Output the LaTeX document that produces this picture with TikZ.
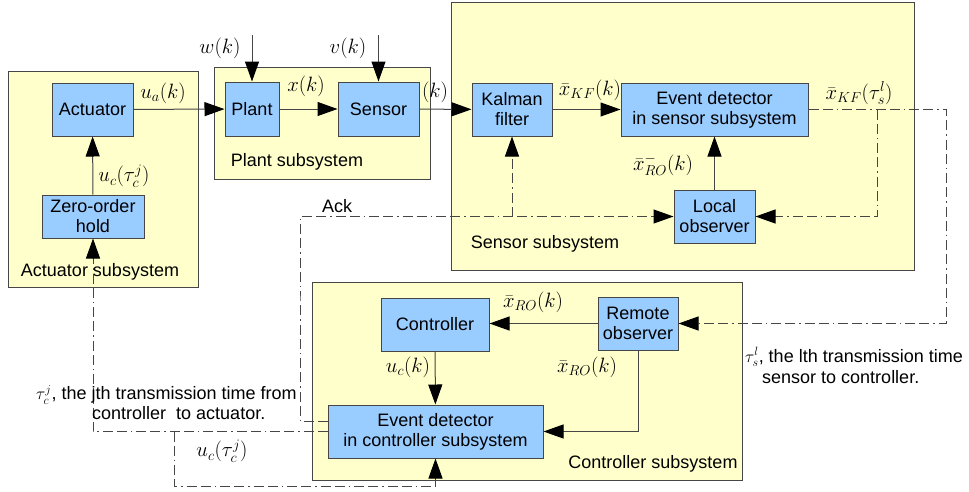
\documentclass[tikz,border=0pt]{standalone}
\usepackage{fontspec}
\setmainfont{Liberation Sans}
\usetikzlibrary{arrows.meta}

\definecolor{subfill}{RGB}{255,255,204}
\definecolor{blockfill}{RGB}{153,204,255}
\definecolor{wire}{RGB}{70,70,70}

\begin{document}
\begin{tikzpicture}[x=1pt,y=-1pt,
    font=\fontsize{18}{20}\selectfont,
    sub/.style={draw=wire,fill=subfill,line width=0.9pt,inner sep=0pt},
    block/.style={draw=wire,fill=blockfill,line width=1pt,align=center,inner sep=0pt},
    lbl/.style={inner sep=0pt},
    sym/.style={inner sep=0pt,font=\fontsize{21}{23}\selectfont},
    sig/.style={draw=wire,line width=1pt,-{Triangle[length=20pt,width=14pt,color=black]}},
    net/.style={sig,dash pattern=on 10pt off 4pt on 10pt off 4pt on 1.5pt off 4pt}]
  \useasboundingbox (0,0) rectangle (969,491);
  \clip (0,0) rectangle (969,491);

  \node[sub,minimum width=190pt,minimum height=216pt] (actsub) at (103,179) {};
  \node[sub,minimum width=216pt,minimum height=112pt] (plantsub) at (322,123) {};
  \node[sub,minimum width=463pt,minimum height=268pt] (sensub) at (682.5,136) {};
  \node[sub,minimum width=430pt,minimum height=198pt] (ctrlsub) at (527,381) {};

  \node[lbl] (actname) at (100,272) {Actuator subsystem};
  \node[lbl] (plantname) at (297,162) {Plant subsystem};
  \node[lbl] (senname) at (545,244) {Sensor subsystem};
  \node[lbl] (ctrlname) at (653,464) {Controller subsystem};

  \node[block,minimum width=81pt,minimum height=53pt] (act) at (92.5,109.5) {Actuator};
  \node[block,minimum width=102pt,minimum height=43pt] (zoh) at (93,216.5) {Zero-order\\hold};
  \node[block,minimum width=54pt,minimum height=54pt] (plant) at (252,109) {Plant};
  \node[block,minimum width=81pt,minimum height=54pt] (sensor) at (378.5,109) {Sensor};
  \node[block,minimum width=80pt,minimum height=53pt] (kf) at (512,109.5) {Kalman\\filter};
  \node[block,minimum width=187pt,minimum height=53pt] (eds) at (714.5,109.5) {Event detector\\in sensor subsystem};
  \node[block,minimum width=81pt,minimum height=53pt] (lo) at (714.5,216.5) {Local\\observer};
  \node[block,minimum width=108pt,minimum height=53pt] (ctrl) at (435,324.5) {Controller};
  \node[block,minimum width=80pt,minimum height=53pt] (ro) at (638,323.5) {Remote\\observer};
  \node[block,minimum width=215pt,minimum height=53pt] (edc) at (435.5,431.5) {Event detector\\in controller subsystem};

  \coordinate (win) at (252,35);
  \coordinate (vin) at (378.5,35);
  \coordinate (rx) at (946,200);
  \coordinate (brx) at (877,200);
  \coordinate (ackx) at (300,300);
  \coordinate (ubot) at (174,486);

  \draw[sig] (act) -- (plant);
  \draw[sig] (plant) -- (sensor);
  \draw[sig] (sensor) -- (kf);
  \draw[sig] (kf) -- (eds);
  \draw[sig] (lo) -- (eds);
  \draw[sig] (zoh) -- (act);
  \draw[sig] (ctrl) -- (edc);
  \draw[sig] (ro.west) -- (ro.west -| ctrl.east);
  \draw[sig] (ro.south) |- (edc.east);
  \draw[sig] (win) -- (plant.north);
  \draw[sig] (vin) -- (sensor.north);

  \draw[net] (eds.east) -| (rx) |- (ro.east);
  \draw[net] (eds.east -| brx) |- (lo.east);
  \draw[net] ([yshift=10pt]edc.west) -| (ackx) |- (lo.west);
  \draw[net] (kf.south |- lo.west) -- (kf.south);
  \draw[net] (edc.west) -| (zoh.south);
  \draw[net] (ubot |- edc.west) -- (ubot) -| (edc.south);

  \node[sym] (ua) at (163,93) {$u_a(k)$};
  \node[sym] (uczoh) at (124,176) {$u_c(\tau_c^j)$};
  \node[sym] (wk) at (220,48) {$w(k)$};
  \node[sym] (vk) at (348,48) {$v(k)$};
  \node[sym] (xk) at (306,86) {$x(k)$};
  \node[sym] (yk) at (435,92) {$(k)$};
  \node[sym] (xkf) at (590,90) {$\bar{x}_{KF}(k)$};
  \node[sym] (xro) at (663,165) {$\bar{x}^{-}_{RO}(k)$};
  \node[sym] (xkftau) at (859,93) {$\bar{x}_{KF}(\tau_s^l)$};
  \node[sym] (xroc) at (533,302) {$\bar{x}_{RO}(k)$};
  \node[sym] (uck) at (408,367) {$u_c(k)$};
  \node[sym] (xrod) at (587,367) {$\bar{x}_{RO}(k)$};
  \node[sym] (ucbot) at (222,451) {$u_c(\tau_c^j)$};
  \node[lbl] (ack) at (337,206) {Ack};

  \node[lbl,anchor=west] (taucnote) at (36,395) {$\tau_c^j$, the jth transmission time from};
  \node[lbl,anchor=west] (taucnote2) at (92,413) {controller\ \ to actuator.};
  \node[lbl,anchor=west] (tausnote) at (745,357) {$\tau_s^l$, the lth transmission time};
  \node[lbl,anchor=west] (tausnote2) at (762,377) {sensor to controller.};
\end{tikzpicture}
\end{document}
